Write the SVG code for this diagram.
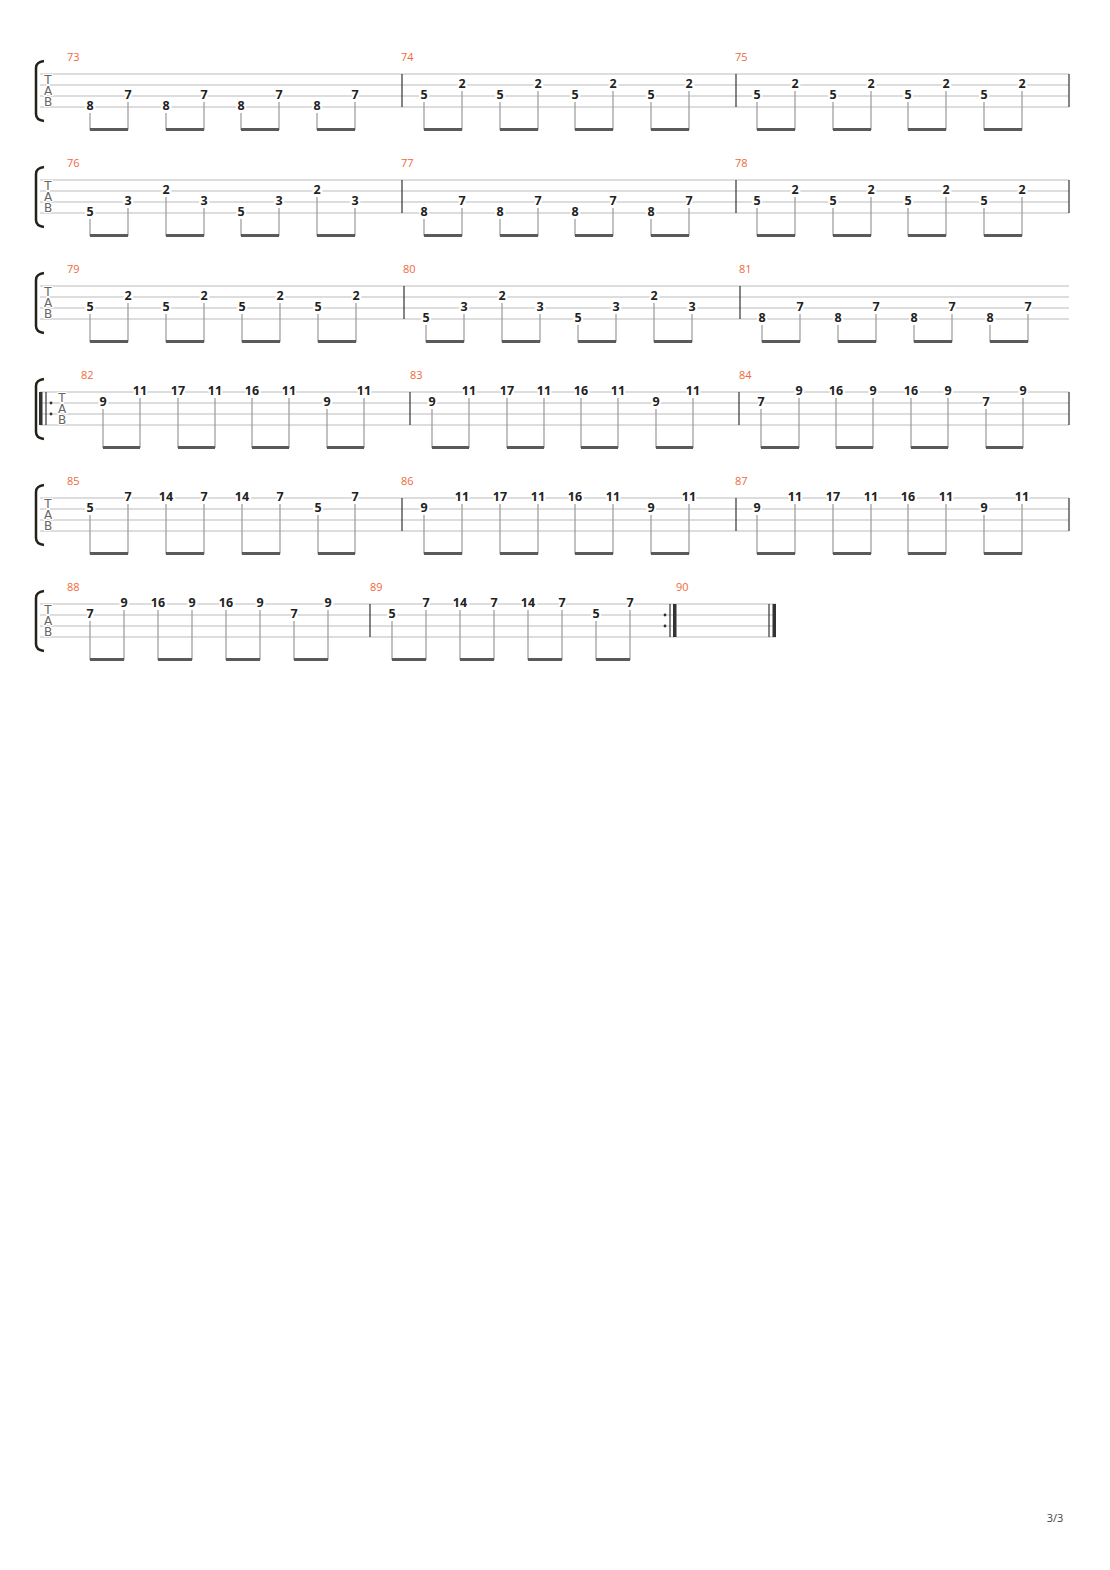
<svg xmlns="http://www.w3.org/2000/svg" width="1110" height="1570" viewBox="0 0 1110 1570">
<style>
.st{stroke:#bbb;stroke-width:1;fill:none}
.bar{stroke:#333;stroke-width:1.2}
.n{font-family:"Open Sans","DejaVu Sans",sans-serif;font-size:12.5px;font-weight:bold;fill:#222;text-anchor:middle;dominant-baseline:central;stroke:#fff;stroke-width:4;paint-order:stroke;transform:translateY(-2px)}
.mn{font-family:"Open Sans","DejaVu Sans",sans-serif;font-size:11px;fill:#f0693a}
.tab{font-family:"DejaVu Sans",sans-serif;font-size:12px;fill:#666;text-anchor:middle;stroke:#fff;stroke-width:2;paint-order:stroke}
.stem{stroke:#999;stroke-width:1.2;fill:none}
.beam{fill:#5a5a5a}
.br{stroke:#222218;stroke-width:2.5;fill:none}
</style>
<rect width="1110" height="1570" fill="#fff"/>
<defs>
<g id="lines"><path class="st" d="M40 0H1069M40 11H1069M40 22H1069M40 33H1069"/><path class="br" d="M44 -13Q36 -12 36 -6V40Q36 46 44 47"/></g>
<g id="tabl"><text class="tab" x="0" y="10">T</text><text class="tab" x="0" y="21">A</text><text class="tab" x="0" y="32">B</text></g>
<g id="staff"><use href="#lines"/><use href="#tabl" x="48"/></g>
</defs>
<!-- System 1 -->
<g id="sys1" transform="translate(0,74)">
<use href="#staff"/>
<line class="bar" x1="402" y1="0" x2="402" y2="33"/><line class="bar" x1="736" y1="0" x2="736" y2="33"/><line class="bar" x1="1069" y1="0" x2="1069" y2="33"/>
<text class="mn" x="67" y="-13">73</text><text class="mn" x="401" y="-13">74</text><text class="mn" x="735" y="-13">75</text>
<path class="stem" d="M90 39V56M128 28V56M166 39V56M204 28V56M241 39V56M279 28V56M317 39V56M355 28V56M424 28V56M462 17V56M500 28V56M538 17V56M575 28V56M613 17V56M651 28V56M689 17V56M757 28V56M795 17V56M833 28V56M871 17V56M908 28V56M946 17V56M984 28V56M1022 17V56"/>
<path class="beam" d="M90 54h38v3h-38zM166 54h38v3h-38zM241 54h38v3h-38zM317 54h38v3h-38zM424 54h38v3h-38zM500 54h38v3h-38zM575 54h38v3h-38zM651 54h38v3h-38zM757 54h38v3h-38zM833 54h38v3h-38zM908 54h38v3h-38zM984 54h38v3h-38z"/>
<text class="n" x="90" y="33">8</text><text class="n" x="128" y="22">7</text><text class="n" x="166" y="33">8</text><text class="n" x="204" y="22">7</text><text class="n" x="241" y="33">8</text><text class="n" x="279" y="22">7</text><text class="n" x="317" y="33">8</text><text class="n" x="355" y="22">7</text>
<text class="n" x="424" y="22">5</text><text class="n" x="462" y="11">2</text><text class="n" x="500" y="22">5</text><text class="n" x="538" y="11">2</text><text class="n" x="575" y="22">5</text><text class="n" x="613" y="11">2</text><text class="n" x="651" y="22">5</text><text class="n" x="689" y="11">2</text>
<text class="n" x="757" y="22">5</text><text class="n" x="795" y="11">2</text><text class="n" x="833" y="22">5</text><text class="n" x="871" y="11">2</text><text class="n" x="908" y="22">5</text><text class="n" x="946" y="11">2</text><text class="n" x="984" y="22">5</text><text class="n" x="1022" y="11">2</text>
</g>
<!-- System 2 -->
<g id="sys2" transform="translate(0,180)">
<use href="#staff"/>
<line class="bar" x1="402" y1="0" x2="402" y2="33"/><line class="bar" x1="736" y1="0" x2="736" y2="33"/><line class="bar" x1="1069" y1="0" x2="1069" y2="33"/>
<text class="mn" x="67" y="-13">76</text><text class="mn" x="401" y="-13">77</text><text class="mn" x="735" y="-13">78</text>
<path class="stem" d="M90 39V56M128 28V56M166 17V56M204 28V56M241 39V56M279 28V56M317 17V56M355 28V56M424 39V56M462 28V56M500 39V56M538 28V56M575 39V56M613 28V56M651 39V56M689 28V56M757 28V56M795 17V56M833 28V56M871 17V56M908 28V56M946 17V56M984 28V56M1022 17V56"/>
<path class="beam" d="M90 54h38v3h-38zM166 54h38v3h-38zM241 54h38v3h-38zM317 54h38v3h-38zM424 54h38v3h-38zM500 54h38v3h-38zM575 54h38v3h-38zM651 54h38v3h-38zM757 54h38v3h-38zM833 54h38v3h-38zM908 54h38v3h-38zM984 54h38v3h-38z"/>
<text class="n" x="90" y="33">5</text><text class="n" x="128" y="22">3</text><text class="n" x="166" y="11">2</text><text class="n" x="204" y="22">3</text><text class="n" x="241" y="33">5</text><text class="n" x="279" y="22">3</text><text class="n" x="317" y="11">2</text><text class="n" x="355" y="22">3</text>
<text class="n" x="424" y="33">8</text><text class="n" x="462" y="22">7</text><text class="n" x="500" y="33">8</text><text class="n" x="538" y="22">7</text><text class="n" x="575" y="33">8</text><text class="n" x="613" y="22">7</text><text class="n" x="651" y="33">8</text><text class="n" x="689" y="22">7</text>
<text class="n" x="757" y="22">5</text><text class="n" x="795" y="11">2</text><text class="n" x="833" y="22">5</text><text class="n" x="871" y="11">2</text><text class="n" x="908" y="22">5</text><text class="n" x="946" y="11">2</text><text class="n" x="984" y="22">5</text><text class="n" x="1022" y="11">2</text>
</g>
<!-- System 3 -->
<g id="sys3" transform="translate(0,286)">
<use href="#staff"/>
<line class="bar" x1="404" y1="0" x2="404" y2="33"/><line class="bar" x1="740" y1="0" x2="740" y2="33"/>
<text class="mn" x="67" y="-13">79</text><text class="mn" x="403" y="-13">80</text><text class="mn" x="739" y="-13">81</text>
<path class="stem" d="M90 28V56M128 17V56M166 28V56M204 17V56M242 28V56M280 17V56M318 28V56M356 17V56M426 39V56M464 28V56M502 17V56M540 28V56M578 39V56M616 28V56M654 17V56M692 28V56M762 39V56M800 28V56M838 39V56M876 28V56M914 39V56M952 28V56M990 39V56M1028 28V56"/>
<path class="beam" d="M90 54h38v3h-38zM166 54h38v3h-38zM242 54h38v3h-38zM318 54h38v3h-38zM426 54h38v3h-38zM502 54h38v3h-38zM578 54h38v3h-38zM654 54h38v3h-38zM762 54h38v3h-38zM838 54h38v3h-38zM914 54h38v3h-38zM990 54h38v3h-38z"/>
<text class="n" x="90" y="22">5</text><text class="n" x="128" y="11">2</text><text class="n" x="166" y="22">5</text><text class="n" x="204" y="11">2</text><text class="n" x="242" y="22">5</text><text class="n" x="280" y="11">2</text><text class="n" x="318" y="22">5</text><text class="n" x="356" y="11">2</text>
<text class="n" x="426" y="33">5</text><text class="n" x="464" y="22">3</text><text class="n" x="502" y="11">2</text><text class="n" x="540" y="22">3</text><text class="n" x="578" y="33">5</text><text class="n" x="616" y="22">3</text><text class="n" x="654" y="11">2</text><text class="n" x="692" y="22">3</text>
<text class="n" x="762" y="33">8</text><text class="n" x="800" y="22">7</text><text class="n" x="838" y="33">8</text><text class="n" x="876" y="22">7</text><text class="n" x="914" y="33">8</text><text class="n" x="952" y="22">7</text><text class="n" x="990" y="33">8</text><text class="n" x="1028" y="22">7</text>
</g>
<!-- System 4 -->
<g id="sys4" transform="translate(0,392)">
<use href="#lines"/><use href="#tabl" x="62"/>
<rect x="39" y="0" width="3.5" height="33" fill="#333"/><line class="bar" x1="46" y1="0" x2="46" y2="33"/><circle cx="51" cy="11" r="1.4" fill="#333"/><circle cx="51" cy="22" r="1.4" fill="#333"/>
<line class="bar" x1="410" y1="0" x2="410" y2="33"/><line class="bar" x1="739" y1="0" x2="739" y2="33"/><line class="bar" x1="1069" y1="0" x2="1069" y2="33"/>
<text class="mn" x="81" y="-13">82</text><text class="mn" x="410" y="-13">83</text><text class="mn" x="739" y="-13">84</text>
<path class="stem" d="M103 17V56M140 6V56M178 6V56M215 6V56M252 6V56M289 6V56M327 17V56M364 6V56M432 17V56M469 6V56M507 6V56M544 6V56M581 6V56M618 6V56M656 17V56M693 6V56M761 17V56M799 6V56M836 6V56M873 6V56M911 6V56M948 6V56M986 17V56M1023 6V56"/>
<path class="beam" d="M103 54h37v3h-37zM178 54h37v3h-37zM252 54h37v3h-37zM327 54h37v3h-37zM432 54h37v3h-37zM507 54h37v3h-37zM581 54h37v3h-37zM656 54h37v3h-37zM761 54h38v3h-38zM836 54h37v3h-37zM911 54h37v3h-37zM986 54h37v3h-37z"/>
<text class="n" x="103" y="11">9</text><text class="n" x="140" y="0">11</text><text class="n" x="178" y="0">17</text><text class="n" x="215" y="0">11</text><text class="n" x="252" y="0">16</text><text class="n" x="289" y="0">11</text><text class="n" x="327" y="11">9</text><text class="n" x="364" y="0">11</text>
<text class="n" x="432" y="11">9</text><text class="n" x="469" y="0">11</text><text class="n" x="507" y="0">17</text><text class="n" x="544" y="0">11</text><text class="n" x="581" y="0">16</text><text class="n" x="618" y="0">11</text><text class="n" x="656" y="11">9</text><text class="n" x="693" y="0">11</text>
<text class="n" x="761" y="11">7</text><text class="n" x="799" y="0">9</text><text class="n" x="836" y="0">16</text><text class="n" x="873" y="0">9</text><text class="n" x="911" y="0">16</text><text class="n" x="948" y="0">9</text><text class="n" x="986" y="11">7</text><text class="n" x="1023" y="0">9</text>
</g>
<!-- System 5 -->
<g id="sys5" transform="translate(0,498)">
<use href="#staff"/>
<line class="bar" x1="402" y1="0" x2="402" y2="33"/><line class="bar" x1="736" y1="0" x2="736" y2="33"/><line class="bar" x1="1069" y1="0" x2="1069" y2="33"/>
<text class="mn" x="67" y="-13">85</text><text class="mn" x="401" y="-13">86</text><text class="mn" x="735" y="-13">87</text>
<path class="stem" d="M90 17V56M128 6V56M166 6V56M204 6V56M242 6V56M280 6V56M318 17V56M355 6V56M424 17V56M462 6V56M500 6V56M538 6V56M575 6V56M613 6V56M651 17V56M689 6V56M757 17V56M795 6V56M833 6V56M871 6V56M908 6V56M946 6V56M984 17V56M1022 6V56"/>
<path class="beam" d="M90 54h38v3h-38zM166 54h38v3h-38zM242 54h38v3h-38zM318 54h37v3h-37zM424 54h38v3h-38zM500 54h38v3h-38zM575 54h38v3h-38zM651 54h38v3h-38zM757 54h38v3h-38zM833 54h38v3h-38zM908 54h38v3h-38zM984 54h38v3h-38z"/>
<text class="n" x="90" y="11">5</text><text class="n" x="128" y="0">7</text><text class="n" x="166" y="0">14</text><text class="n" x="204" y="0">7</text><text class="n" x="242" y="0">14</text><text class="n" x="280" y="0">7</text><text class="n" x="318" y="11">5</text><text class="n" x="355" y="0">7</text>
<text class="n" x="424" y="11">9</text><text class="n" x="462" y="0">11</text><text class="n" x="500" y="0">17</text><text class="n" x="538" y="0">11</text><text class="n" x="575" y="0">16</text><text class="n" x="613" y="0">11</text><text class="n" x="651" y="11">9</text><text class="n" x="689" y="0">11</text>
<text class="n" x="757" y="11">9</text><text class="n" x="795" y="0">11</text><text class="n" x="833" y="0">17</text><text class="n" x="871" y="0">11</text><text class="n" x="908" y="0">16</text><text class="n" x="946" y="0">11</text><text class="n" x="984" y="11">9</text><text class="n" x="1022" y="0">11</text>
</g>
<!-- System 6 -->
<g id="sys6" transform="translate(0,604)">
<path class="st" d="M40 0H776M40 11H776M40 22H776M40 33H776"/><path class="br" d="M44 -13Q36 -12 36 -6V40Q36 46 44 47"/><use href="#tabl" x="48"/>
<line class="bar" x1="370" y1="0" x2="370" y2="33"/>
<circle cx="665" cy="11" r="1.4" fill="#333"/><circle cx="665" cy="22" r="1.4" fill="#333"/><line class="bar" x1="670" y1="0" x2="670" y2="33"/><rect x="673" y="0" width="3.5" height="33" fill="#333"/>
<line class="bar" x1="769" y1="0" x2="769" y2="33"/><rect x="772.5" y="0" width="3.5" height="33" fill="#333"/>
<text class="mn" x="67" y="-13">88</text><text class="mn" x="370" y="-13">89</text><text class="mn" x="676" y="-13">90</text>
<path class="stem" d="M90 17V56M124 6V56M158 6V56M192 6V56M226 6V56M260 6V56M294 17V56M328 6V56M392 17V56M426 6V56M460 6V56M494 6V56M528 6V56M562 6V56M596 17V56M630 6V56"/>
<path class="beam" d="M90 54h34v3h-34zM158 54h34v3h-34zM226 54h34v3h-34zM294 54h34v3h-34zM392 54h34v3h-34zM460 54h34v3h-34zM528 54h34v3h-34zM596 54h34v3h-34z"/>
<text class="n" x="90" y="11">7</text><text class="n" x="124" y="0">9</text><text class="n" x="158" y="0">16</text><text class="n" x="192" y="0">9</text><text class="n" x="226" y="0">16</text><text class="n" x="260" y="0">9</text><text class="n" x="294" y="11">7</text><text class="n" x="328" y="0">9</text>
<text class="n" x="392" y="11">5</text><text class="n" x="426" y="0">7</text><text class="n" x="460" y="0">14</text><text class="n" x="494" y="0">7</text><text class="n" x="528" y="0">14</text><text class="n" x="562" y="0">7</text><text class="n" x="596" y="11">5</text><text class="n" x="630" y="0">7</text>
</g>
<text x="1055" y="1522" font-family="'Open Sans','DejaVu Sans',sans-serif" font-size="11" fill="#444" text-anchor="middle">3/3</text>
</svg>
